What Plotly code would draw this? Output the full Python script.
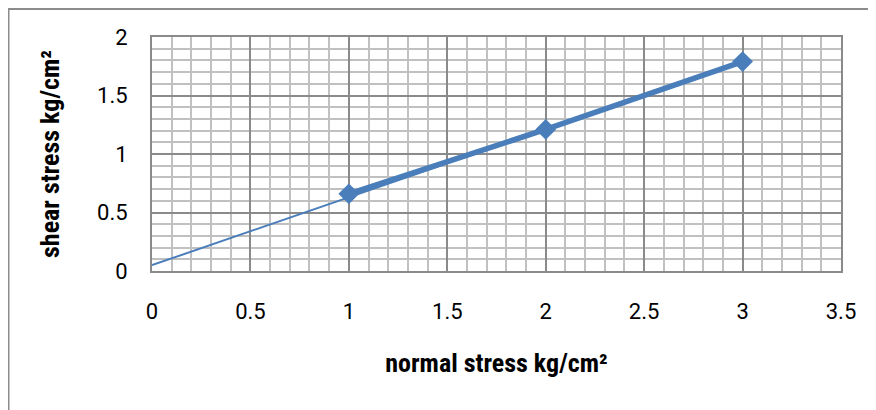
import plotly.graph_objects as go

normal_stress = [1, 2, 3]
shear_stress = [0.66, 1.21, 1.79]
trend_x = [0, 3]
trend_y = [0.05, 1.79]
x_ticks = [0, 0.5, 1, 1.5, 2, 2.5, 3, 3.5]
x_tick_labels = ["0", "0.5", "1", "1.5", "2", "2.5", "3", "3.5"]
y_ticks = [0, 0.5, 1, 1.5, 2]
y_tick_labels = ["0", "0.5", "1", "1.5", "2"]

blue = "#4a7ebb"
major = "#8a8a8a"
minor = "#c0c0c0"

fig = go.Figure()
fig.add_trace(go.Scatter(x=trend_x, y=trend_y, mode="lines",
                         line=dict(color=blue, width=2), hoverinfo="skip"))
fig.add_trace(go.Scatter(x=normal_stress, y=shear_stress, mode="lines+markers",
                         line=dict(color=blue, width=5.5),
                         marker=dict(symbol="diamond", size=16, color=blue)))

# page body has an 8px offset; compensate
OFF = 8
W, H = 876, 410
L, R, T, B = 152 - OFF, 876 - (841 - OFF), 37 - OFF, 410 - (271 - OFF)
pw = W - L - R
ph = H - T - B

tickfont = dict(family="Roboto, Liberation Sans, sans-serif", size=22, color="#000")
titlefont = dict(family="Liberation Sans Narrow, Roboto Condensed, Liberation Sans, sans-serif",
                 size=26, color="#000")

fig.update_layout(
    width=W, height=H, showlegend=False,
    margin=dict(l=L, r=R, t=T, b=B),
    paper_bgcolor="white", plot_bgcolor="white",
    xaxis=dict(range=[0, 3.5], tickvals=x_ticks, ticktext=x_tick_labels,
               showgrid=True, gridcolor=major, gridwidth=2,
               minor=dict(dtick=0.1, showgrid=True, gridcolor=minor, gridwidth=2),
               showline=True, linecolor=major, linewidth=2, mirror=True,
               zeroline=False, ticks="", ticklabelstandoff=20, tickfont=tickfont,
               title=dict(text="<b>normal stress kg/cm²</b>", font=titlefont, standoff=30)),
    yaxis=dict(range=[0, 2], tickvals=y_ticks, ticktext=y_tick_labels,
               showgrid=True, gridcolor=major, gridwidth=2,
               minor=dict(dtick=0.1, showgrid=True, gridcolor=minor, gridwidth=2),
               showline=True, linecolor=major, linewidth=2, mirror=True,
               zeroline=False, ticks="", ticklabelstandoff=18, tickfont=tickfont,
               title=dict(text="<b>shear stress kg/cm²</b>", font=titlefont, standoff=30)),
)

fig.add_shape(type="rect", xref="paper", yref="paper",
              x0=(8.5 - OFF - L) / pw, x1=(885 - L) / pw,
              y0=(H - B - 420) / ph, y1=(H - B - (9 - OFF)) / ph,
              line=dict(color="#8c8c8c", width=2), fillcolor="rgba(0,0,0,0)", layer="below")

fig.write_html("out.html")
